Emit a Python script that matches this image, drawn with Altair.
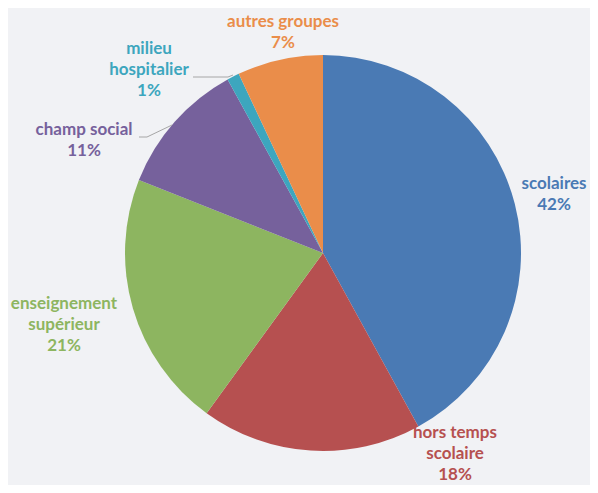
import altair as alt
import pandas as pd

# Data
categories = ["scolaires", "hors temps scolaire", "enseignement supérieur",
              "champ social", "milieu hospitalier", "autres groupes"]
values = [42, 18, 21, 11, 1, 7]
colors = ["#4A7AB4", "#B65050", "#8DB560", "#76619C", "#3DA6BE", "#EA8D4A"]
label_texts = ["scolaires\n42%", "hors temps\nscolaire\n18%", "enseignement\nsupérieur\n21%",
               "champ social\n11%", "milieu\nhospitalier\n1%", "autres groupes\n7%"]

# Layout (chart pixel coordinates, origin at chart top-left; y = first line centre)
W, H = 582, 477
CX, CY, R = 315, 245, 198
label_x = [546, 447, 56, 76, 141, 275]
label_y = [176, 425, 296, 122, 41, 14]
label_lh = 21
leader_x = [185, 220, 131, 139]
leader_y = [69, 69, 129, 129]
leader_x2 = [220, 225, 139, 164]
leader_y2 = [69, 67, 129, 117]

df = pd.DataFrame({"cat": categories, "val": values, "order": range(len(values)),
                   "label": label_texts, "lx": label_x, "ly": label_y})
lines = pd.DataFrame({"x": leader_x, "y": leader_y, "x2": leader_x2, "y2": leader_y2})

color_scale = alt.Scale(domain=categories, range=colors)
xs = alt.Scale(domain=[0, W], range=[0, W])
ys = alt.Scale(domain=[0, H], range=[0, H])

pie = alt.Chart(df).mark_arc(outerRadius=R).encode(
    theta=alt.Theta("val:Q", stack=True),
    order=alt.Order("order:Q"),
    color=alt.Color("cat:N", scale=color_scale, legend=None),
    x=alt.value(CX), y=alt.value(CY),
)

leaders = alt.Chart(lines).mark_rule(color="#A6A6A6", strokeWidth=1).encode(
    x=alt.X("x:Q", scale=xs, axis=None), y=alt.Y("y:Q", scale=ys, axis=None),
    x2="x2:Q", y2="y2:Q",
)

labels = alt.Chart(df).mark_text(
    font="Lato", fontSize=17, fontWeight="bold", lineBreak="\n", lineHeight=label_lh,
    align="center", baseline="middle",
).encode(
    x=alt.X("lx:Q", scale=xs, axis=None),
    y=alt.Y("ly:Q", scale=ys, axis=None),
    text="label:N",
    color=alt.Color("cat:N", scale=color_scale, legend=None),
)

chart = alt.layer(pie, leaders, labels).properties(
    width=W, height=H, padding=0, autosize=alt.AutoSizeParams(type="none"),
    background="#F1F2F5",
).configure_view(stroke=None)

chart.save("out.html", embed_options={"renderer": "svg", "actions": False})
